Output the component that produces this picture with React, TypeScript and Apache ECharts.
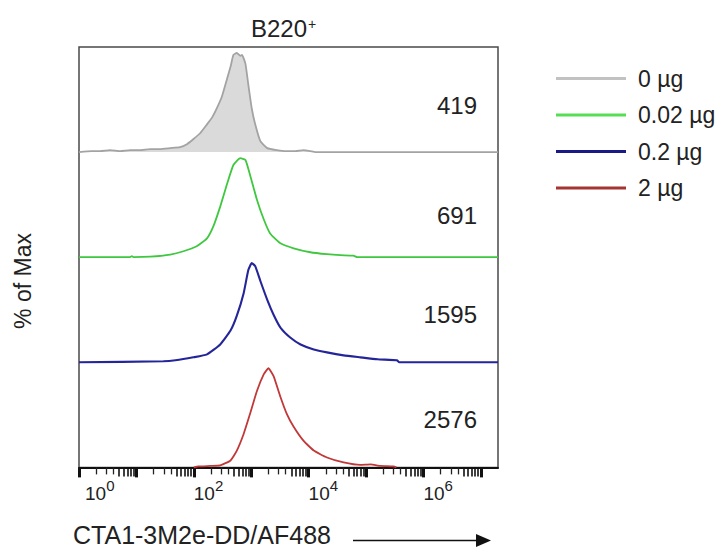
import React, { useEffect, useRef } from "react";
import * as echarts from "echarts";

// ---- data (x = log10 fluorescence intensity, y = % of max) ----
const SERIES_NAMES = ["0 µg", "0.02 µg", "0.2 µg", "2 µg"];
const MFI_LABELS = ["419", "691", "1595", "2576"];

const GRAY_X = [0, 0.22, 0.37, 0.54, 0.72, 0.89, 1.06, 1.24, 1.41, 1.59, 1.76, 1.88, 1.99, 2.11, 2.23, 2.32, 2.4, 2.49, 2.58, 2.64, 2.69, 2.75, 2.81, 2.84, 2.9, 2.95, 3.01, 3.07, 3.16, 3.28, 3.45, 3.6, 3.77, 3.91, 4.03, 4.12, 7.3];
const GRAY_Y = [0, 1, 1, 2, 1, 2, 2, 3, 3, 4, 5, 8, 13, 19, 28, 35, 44, 56, 74, 86, 98, 100, 97, 98, 89, 68, 44, 28, 11, 4, 2, 1, 1, 2, 1, 0, 0];

const GREEN_X = [0, 0.88, 0.92, 0.96, 1.24, 1.59, 1.82, 2.05, 2.23, 2.34, 2.46, 2.58, 2.69, 2.81, 2.9, 2.98, 3.1, 3.22, 3.33, 3.51, 3.74, 4.03, 4.32, 4.55, 4.78, 4.85, 7.3];
const GREEN_Y = [0, 0, 1, 0, 0.5, 2.7, 6, 11, 19, 31, 51, 74, 93, 100, 98, 83, 58, 38, 24, 14, 9, 5, 3, 2, 1.5, 0, 0];

const BLUE_X = [0, 1.47, 1.68, 1.99, 2.23, 2.46, 2.64, 2.75, 2.87, 2.95, 3.01, 3.07, 3.16, 3.28, 3.39, 3.51, 3.68, 3.86, 4.09, 4.32, 4.61, 4.9, 5.2, 5.54, 5.58, 7.3];
const BLUE_Y = [0, 1, 2, 5, 8, 18, 32, 47, 70, 93, 100, 97, 82, 63, 48, 35, 25, 18, 13, 10, 7, 5, 3, 2, 0, 0];

const RED_X = [2.0, 2.08, 2.29, 2.46, 2.64, 2.75, 2.87, 2.98, 3.1, 3.22, 3.3, 3.39, 3.51, 3.62, 3.74, 3.91, 4.09, 4.32, 4.61, 4.9, 5.08, 5.25, 5.48, 5.53];
const RED_Y = [0, 1, 1.5, 2, 7, 17, 34, 54, 77, 94, 100, 92, 71, 54, 41, 27, 17, 10, 5, 2.5, 3, 1.5, 1, 0];

const X_MIN = 0;
const X_MAX = 7.3;
const DECADE_TICKS = [0, 1, 2, 3, 4, 5, 6, 7];
const DECADE_LABELS = [0, 2, 4, 6];

const FONT = "Liberation Sans, Arial, Helvetica, sans-serif";

export default function App() {
  const ref = useRef<HTMLDivElement>(null);

  useEffect(() => {
    if (!ref.current) return;
    document.body.style.margin = "0";
    const chart = echarts.init(ref.current, null, { renderer: "svg" });

    const minorShort: number[] = [];
    const minorLong: number[] = [];
    DECADE_TICKS.forEach((d) => {
      for (let k = 2; k <= 9; k++) {
        const v = d + Math.log10(k);
        if (v <= X_MAX) (k <= 4 ? minorShort : minorLong).push(v);
      }
    });

    const panelH = 105.1;
    const top0 = 47;
    const left = 79;
    const right = 223;

    const grids: any[] = [0, 1, 2, 3].map((i) => ({
      left, right, top: top0 + i * panelH, height: panelH, show: false,
    }));
    grids.push({
      left, right, top: top0, height: 4 * panelH, show: true,
      borderColor: "#4a4a4a", borderWidth: 1.5, backgroundColor: "transparent",
    });

    const baseX = {
      type: "value", min: X_MIN, max: X_MAX, position: "bottom",
      axisLine: { show: false, onZero: false },
      axisTick: { show: false }, axisLabel: { show: false }, splitLine: { show: false },
    };

    const xAxis: any[] = [
      { ...baseX, gridIndex: 0 },
      { ...baseX, gridIndex: 1 },
      { ...baseX, gridIndex: 2 },
      {
        ...baseX, gridIndex: 3,
        axisLine: { show: true, onZero: false, lineStyle: { color: "#111", width: 2 } },
        axisTick: { show: true, customValues: DECADE_TICKS, length: 10, lineStyle: { color: "#111", width: 3 } },
        axisLabel: {
          show: true, customValues: DECADE_LABELS, align: "left", margin: 17,
          formatter: (v: number) => (v === 0 ? "{p|}" : "") + `{b|10}{s|${Math.round(v)}}`,
          rich: {
            p: { width: 6 },
            b: { fontSize: 19, lineHeight: 19, color: "#222", fontFamily: FONT, verticalAlign: "bottom" },
            s: { fontSize: 15, lineHeight: 15, color: "#222", fontFamily: FONT, verticalAlign: "bottom", padding: [0, 0, 10, 0] },
          },
        },
      },
      { ...baseX, gridIndex: 3, axisTick: { show: true, customValues: minorShort, length: 7, lineStyle: { color: "#222", width: 1.3 } } },
      { ...baseX, gridIndex: 3, axisTick: { show: true, customValues: minorLong, length: 9, lineStyle: { color: "#111", width: 1.6 } } },
      { ...baseX, gridIndex: 4 },
    ];

    const yAxis: any[] = [0, 1, 2, 3].map((i) => ({ type: "value", gridIndex: i, min: 0, max: 106, show: false }));
    yAxis.push({ type: "value", gridIndex: 4, min: 0, max: 1, show: false });

    const defs = [
      { xs: GRAY_X, ys: GRAY_Y, color: "#a3a3a3", legend: "#c2c2c2", area: "#dadada", width: 1.8 },
      { xs: GREEN_X, ys: GREEN_Y, color: "#3fc83f", legend: "#55dd55", area: null, width: 1.8 },
      { xs: BLUE_X, ys: BLUE_Y, color: "#25259a", legend: "#1a1a86", area: null, width: 2.1 },
      { xs: RED_X, ys: RED_Y, color: "#c23838", legend: "#a53535", area: null, width: 1.8 },
    ];

    const series = defs.map((d, i) => ({
      type: "line",
      name: SERIES_NAMES[i],
      xAxisIndex: i,
      yAxisIndex: i,
      data: d.xs.map((x, j) => [x, d.ys[j]]),
      symbol: "none",
      smooth: 0.15,
      clip: false,
      silent: true,
      color: d.color,
      lineStyle: { color: d.color, width: d.width },
      itemStyle: { color: d.color },
      areaStyle: d.area ? { color: d.area, opacity: 1 } : undefined,
      z: 3,
    }));

    const mfiY = [105, 215, 314, 419];
    const graphic: any[] = MFI_LABELS.map((t, i) => ({
      type: "text", x: 477, y: mfiY[i],
      style: { text: t, fontSize: 24, fontFamily: FONT, fill: "#222", textAlign: "right", textVerticalAlign: "middle" },
    }));
    graphic.push(
      {
        type: "text", x: 23, y: 281, rotation: Math.PI / 2,
        style: { text: "% of Max", fontSize: 23, fontFamily: FONT, fill: "#222", textAlign: "center", textVerticalAlign: "middle" },
      },
      {
        type: "text", x: 73, y: 535,
        style: { text: "CTA1-3M2e-DD/AF488", fontSize: 25, fontFamily: FONT, fill: "#222", textAlign: "left", textVerticalAlign: "middle" },
      },
      { type: "line", shape: { x1: 353, y1: 540.5, x2: 480, y2: 540.5 }, style: { stroke: "#111", lineWidth: 1.5 } },
      { type: "polygon", shape: { points: [[476, 534], [491, 540.5], [476, 547]] }, style: { fill: "#111" } },
    );

    chart.setOption({
      animation: false,
      backgroundColor: "#fff",
      title: {
        text: "{a|B220}{b|+}",
        left: 246, top: 11,
        textStyle: {
          fontWeight: "normal",
          rich: {
            a: { fontSize: 24, lineHeight: 24, fontFamily: FONT, color: "#222", fontWeight: "normal", verticalAlign: "bottom" },
            b: { fontSize: 14, lineHeight: 14, fontFamily: FONT, color: "#222", fontWeight: "normal", verticalAlign: "bottom", padding: [0, 0, 9, 1] },
          },
        },
      },
      legend: {
        orient: "vertical", left: 551, top: 62,
        icon: "rect", itemWidth: 70, itemHeight: 3, itemGap: 13.5,
        selectedMode: false,
        textStyle: { fontSize: 23, lineHeight: 23, fontFamily: FONT, color: "#222", padding: [0, 0, 0, 7] },
        data: SERIES_NAMES.map((n, i) => ({ name: n, itemStyle: { color: defs[i].legend } })),
      },
      grid: grids,
      xAxis,
      yAxis,
      series,
      graphic,
    });

    return () => chart.dispose();
  }, []);

  return <div ref={ref} style={{ width: 721, height: 556 }} />;
}
